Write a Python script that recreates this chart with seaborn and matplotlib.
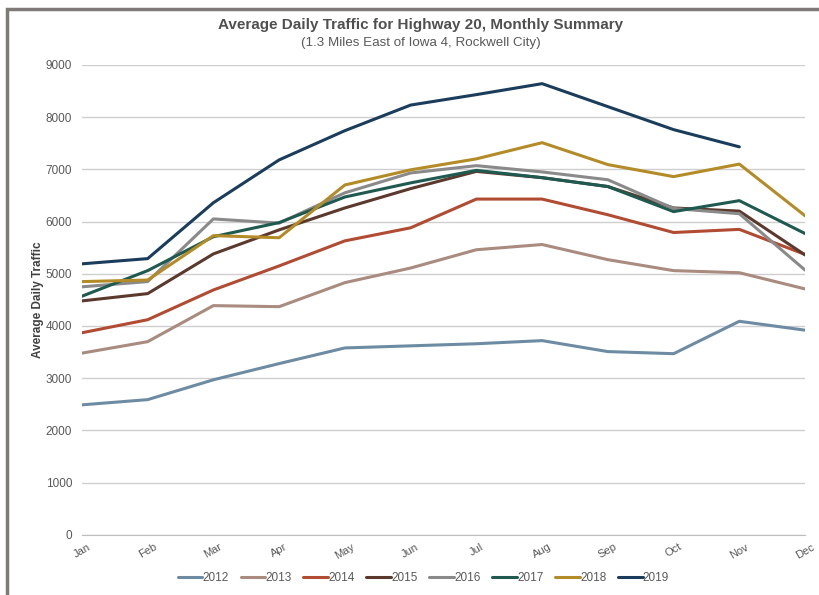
import pandas as pd
import matplotlib.pyplot as plt
import seaborn as sns
from matplotlib.patches import Rectangle

# Valores (tráfego médio diário por mês)
months = ['Jan', 'Feb', 'Mar', 'Apr', 'May', 'Jun', 'Jul', 'Aug', 'Sep', 'Oct', 'Nov', 'Dec']
y2012 = [2490, 2590, 2970, 3280, 3580, 3620, 3660, 3720, 3510, 3470, 4090, 3920]
y2013 = [3480, 3700, 4390, 4370, 4830, 5110, 5460, 5560, 5270, 5060, 5020, 4710]
y2014 = [3870, 4120, 4690, 5150, 5630, 5880, 6430, 6430, 6130, 5790, 5850, 5370]
y2015 = [4480, 4620, 5380, 5840, 6260, 6630, 6960, 6840, 6670, 6260, 6200, 5360]
y2016 = [4750, 4850, 6050, 5970, 6550, 6930, 7070, 6950, 6800, 6250, 6150, 5070]
y2017 = [4570, 5060, 5710, 5980, 6470, 6740, 6980, 6840, 6670, 6190, 6400, 5770]
y2018 = [4850, 4880, 5730, 5690, 6700, 6990, 7200, 7510, 7090, 6860, 7100, 6110]
y2019 = [5190, 5290, 6360, 7180, 7740, 8230, 8430, 8640, 8200, 7760, 7430, None]
years = ['2012', '2013', '2014', '2015', '2016', '2017', '2018', '2019']
cores = ['#6d8ca3', '#a98b7f', '#b14b32', '#5b3a2d', '#8a8a8a', '#1e5a50', '#b38b27', '#1b3d5c']

series = [y2012, y2013, y2014, y2015, y2016, y2017, y2018, y2019]
rows = []
for ano, vals in zip(years, series):
    for i, v in enumerate(vals):
        if v is not None:
            rows.append({'mes': i, 'ano': ano, 'trafego': v})
df = pd.DataFrame(rows)

sns.set_style('white')
plt.rcParams['font.family'] = ['Liberation Sans', 'DejaVu Sans']

fig = plt.figure(figsize=(8.19, 5.95), dpi=100)
ax = fig.add_axes([0.100, 0.101, 0.883, 0.790])

sns.lineplot(data=df, x='mes', y='trafego', hue='ano', hue_order=years,
             palette=dict(zip(years, cores)), linewidth=2.2, ax=ax)

ax.set_xlim(0, 11)
ax.set_ylim(0, 9000)
ax.set_yticks(range(0, 9001, 1000))
ax.set_xticks(range(12))
ax.set_xticklabels(months, rotation=30, ha='center')
ax.grid(axis='y', color='#cfcfcf', linewidth=1)
ax.set_axisbelow(True)
for s in ['top', 'right', 'left']:
    ax.spines[s].set_visible(False)
ax.spines['bottom'].set_color('#bdbdbd')
ax.tick_params(axis='x', direction='inout', length=6, color='#bdbdbd', labelsize=8, labelcolor='#595959', pad=2)
ax.tick_params(axis='y', length=0, labelsize=8.5, labelcolor='#595959', pad=7)
ax.set_xlabel('')
ax.set_ylabel('Average Daily Traffic', fontsize=8.5, fontweight='bold', color='#404040')
ax.yaxis.set_label_coords(-0.053, 0.5)

ax.legend(loc='lower center', bbox_to_anchor=(0.517, 0.0), bbox_transform=fig.transFigure,
          ncol=8, frameon=False, fontsize=8.5, handlelength=2.1, handletextpad=0.0,
          columnspacing=1.0, labelcolor='#595959')

fig.text(0.514, 0.958, 'Average Daily Traffic for Highway 20, Monthly Summary',
         ha='center', va='center', fontsize=11, fontweight='bold', color='#505050')
fig.text(0.514, 0.927, '(1.3 Miles East of Iowa 4, Rockwell City)',
         ha='center', va='center', fontsize=9.6, color='#595959')

# Moldura cinza (só esquerda e topo visíveis)
fig.patches.append(Rectangle((0.008, -0.05), 1.1, 1.035, transform=fig.transFigure,
                             fill=False, edgecolor='#7f7a78', linewidth=2.5))

plt.savefig('out.png', dpi=100)
